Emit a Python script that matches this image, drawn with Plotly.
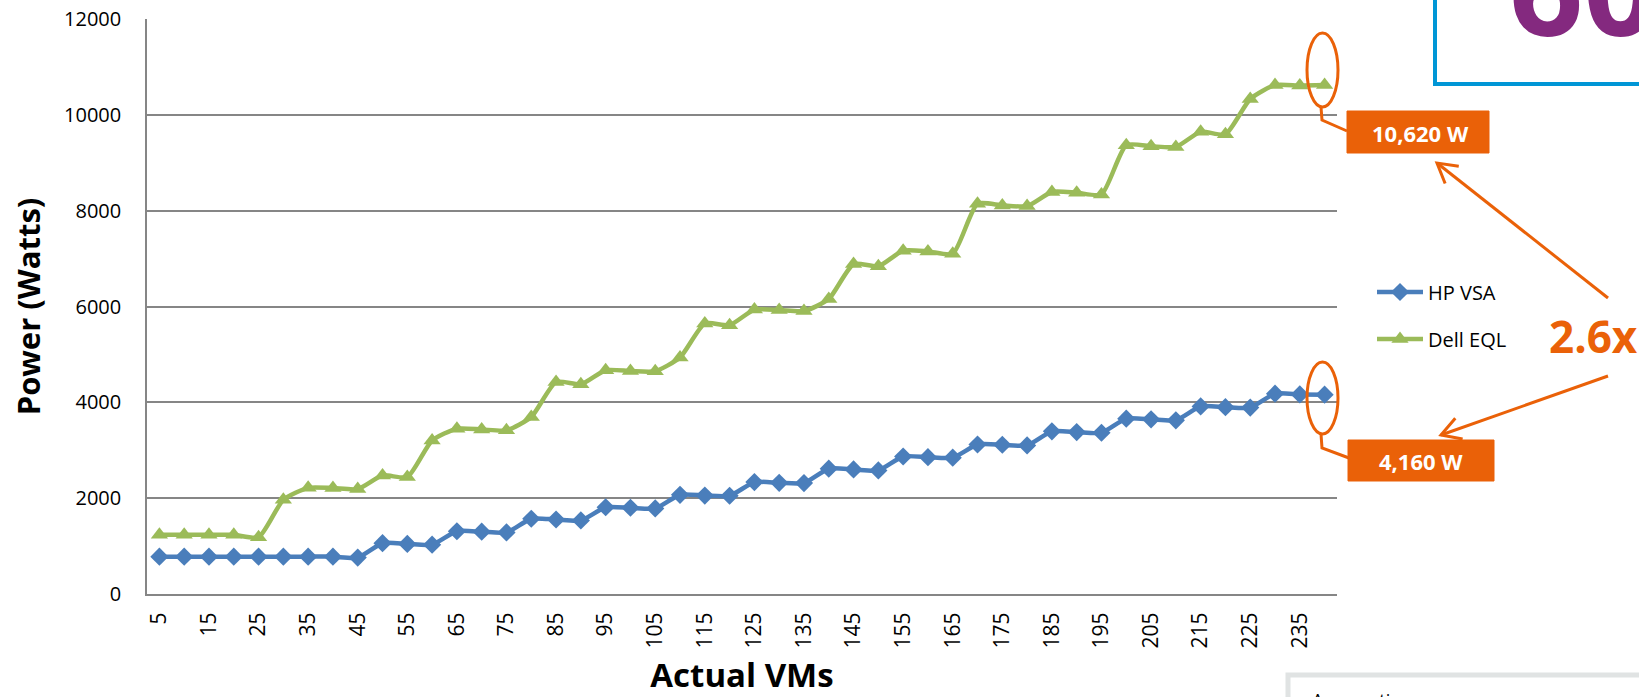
import math
import plotly.graph_objects as go

# ---- data ----
vms = [5, 10, 15, 20, 25, 30, 35, 40, 45, 50, 55, 60, 65, 70, 75, 80, 85, 90, 95, 100,
       105, 110, 115, 120, 125, 130, 135, 140, 145, 150, 155, 160, 165, 170, 175, 180,
       185, 190, 195, 200, 205, 210, 215, 220, 225, 230, 235, 240]
hp_vsa = [780, 780, 780, 780, 780, 780, 780, 780, 760,
          1060, 1045, 1030, 1310, 1300, 1285, 1570, 1555, 1535,
          1810, 1800, 1785, 2070, 2055, 2050, 2335, 2320, 2315,
          2615, 2600, 2580, 2870, 2855, 2845, 3120, 3115, 3100,
          3395, 3380, 3365, 3660, 3645, 3625, 3915, 3900, 3890,
          4180, 4165, 4160]
dell_eql = [1235, 1235, 1235, 1235, 1185, 1965, 2215, 2210, 2190, 2475, 2440, 3205,
            3450, 3435, 3415, 3695, 4425, 4375, 4670, 4655, 4650, 4935, 5645, 5610,
            5935, 5925, 5905, 6155, 6885, 6840, 7165, 7150, 7100, 8145, 8110, 8095,
            8390, 8375, 8340, 9365, 9345, 9330, 9645, 9595, 10330, 10620, 10610, 10620]
tick_labels = [5, 15, 25, 35, 45, 55, 65, 75, 85, 95, 105, 115, 125, 135, 145, 155,
               165, 175, 185, 195, 205, 215, 225, 235]
hp_label = "4,160 W"
dell_label = "10,620 W"
ratio_label = "2.6x"

# ---- layout constants ----
W, H = 1639, 697
L, R, T, B = 147, 302, 19, 103
PW, PH = W - L - R, H - T - B
BLUE = "#4A7EBB"
GREEN = "#9BBB59"
ORANGE = "#EA6108"
PURPLE = "#84297F"
CYAN = "#0096D6"
GRID = "#868686"


def px(x):
    return (x - L) / PW


def py(y):
    return (H - B - y) / PH


fig = go.Figure()
fig.add_trace(go.Scatter(
    x=vms, y=hp_vsa, name="HP VSA", mode="lines+markers",
    line=dict(color=BLUE, width=4.5, shape="spline", smoothing=0.6),
    marker=dict(symbol="diamond", size=14, color=BLUE, line=dict(width=0)),
    legend="legend"))
fig.add_trace(go.Scatter(
    x=vms, y=dell_eql, name="Dell EQL", mode="lines+markers",
    line=dict(color=GREEN, width=4.5, shape="spline", smoothing=0.6),
    marker=dict(symbol="triangle-up", size=15, color=GREEN, line=dict(width=0)),
    legend="legend2"))

shapes = []
annotations = []

# ellipses around last points
for (y0, y1) in [(107, 33), (434, 362)]:
    shapes.append(dict(type="circle", xref="paper", yref="paper",
                       x0=px(1307), x1=px(1338), y0=py(y0), y1=py(y1),
                       line=dict(color=ORANGE, width=3)))

# connectors
for pts in [[(1321, 107), (1322, 120), (1347, 131)],
            [(1321, 434), (1322, 448), (1349, 458)]]:
    path = "M " + " L ".join(f"{px(a)},{py(b)}" for a, b in pts)
    shapes.append(dict(type="path", xref="paper", yref="paper", path=path,
                       line=dict(color=ORANGE, width=3)))

# label boxes
for (x0, x1, y0, y1, txt, cx, cy) in [(1347, 1489, 111, 153, dell_label, 1420, 133),
                                      (1348, 1494, 440, 481, hp_label, 1421, 461)]:
    shapes.append(dict(type="rect", xref="paper", yref="paper",
                       x0=px(x0), x1=px(x1), y0=py(y1), y1=py(y0),
                       fillcolor=ORANGE, line=dict(color=ORANGE, width=1)))
    annotations.append(dict(xref="paper", yref="paper", x=px(cx), y=py(cy),
                            xanchor="center", yanchor="middle",
                            text=f"<b>{txt}</b>", showarrow=False,
                            font=dict(family="Open Sans", size=22, color="white")))


# arrows from ratio text to boxes (open arrowheads)
def arrow(tail, tip, arm=22):
    dx, dy = tail[0] - tip[0], tail[1] - tip[1]
    n = math.hypot(dx, dy)
    ux, uy = dx / n, dy / n
    pts = []
    for ang in (math.radians(30), math.radians(-30)):
        c, s = math.cos(ang), math.sin(ang)
        pts.append((tip[0] + arm * (c * ux - s * uy), tip[1] + arm * (s * ux + c * uy)))
    shapes.append(dict(type="path", xref="paper", yref="paper",
                       path=f"M {px(tail[0])},{py(tail[1])} L {px(tip[0])},{py(tip[1])}",
                       line=dict(color=ORANGE, width=3)))
    shapes.append(dict(type="path", xref="paper", yref="paper",
                       path=(f"M {px(pts[0][0])},{py(pts[0][1])} L {px(tip[0])},{py(tip[1])} "
                             f"L {px(pts[1][0])},{py(pts[1][1])}"),
                       line=dict(color=ORANGE, width=3)))


arrow((1608, 298), (1437, 163))
arrow((1608, 376), (1441, 435))

annotations.append(dict(xref="paper", yref="paper", x=px(1547), y=py(336),
                        xanchor="left", yanchor="middle", text=f"<b>{ratio_label}</b>",
                        showarrow=False,
                        font=dict(family="Open Sans", size=44, color=ORANGE, weight=800)))

# top-right framed box with big number
shapes.append(dict(type="rect", xref="paper", yref="paper",
                   x0=px(1435), x1=px(1720), y0=py(84), y1=py(-20),
                   line=dict(color=CYAN, width=4), fillcolor="rgba(0,0,0,0)"))
annotations.append(dict(xref="paper", yref="paper", x=px(1507), y=py(-15),
                        xanchor="left", yanchor="middle", text="<b>60</b>",
                        showarrow=False,
                        font=dict(family="Open Sans", size=130, color=PURPLE, weight=800)))

# assumptions box at bottom right
shapes.append(dict(type="rect", xref="paper", yref="paper",
                   x0=px(1288), x1=px(1720), y0=py(730), y1=py(675),
                   line=dict(color="#E0E3E3", width=5), fillcolor="white"))
annotations.append(dict(xref="paper", yref="paper", x=px(1310), y=py(686),
                        xanchor="left", yanchor="top", text="Assumptions:",
                        showarrow=False,
                        font=dict(family="Open Sans", size=18, color="black")))

legend_common = dict(xref="paper", yref="paper", xanchor="left", yanchor="middle",
                     bgcolor="rgba(0,0,0,0)", borderwidth=0,
                     font=dict(family="Open Sans", size=20, color="black"),
                     itemwidth=46)

fig.update_layout(
    width=W, height=H,
    template="none",
    paper_bgcolor="white", plot_bgcolor="white",
    margin=dict(l=L, r=R, t=T, b=B, pad=0),
    showlegend=True,
    legend=dict(x=px(1372), y=py(292), **legend_common),
    legend2=dict(x=px(1372), y=py(339), **legend_common),
    shapes=shapes,
    annotations=annotations,
    xaxis=dict(
        range=[2.5, 242.5], tickmode="array", tickvals=tick_labels,
        ticktext=[str(v) for v in tick_labels], tickangle=-90,
        showgrid=False, zeroline=False, showline=True, linecolor=GRID, linewidth=2,
        ticks="outside", ticklen=8, tickcolor="rgba(0,0,0,0)",
        tickfont=dict(family="Open Sans", size=21, color="black"),
        title=dict(text="<b>Actual VMs</b>", standoff=30,
                   font=dict(family="Open Sans", size=33, color="black")),
        automargin=False, fixedrange=True),
    yaxis=dict(
        range=[0, 12000], dtick=2000, tick0=0, tickformat="d",
        showgrid=True, gridcolor=GRID, gridwidth=1.5, zeroline=False,
        showline=True, linecolor=GRID, linewidth=1.5,
        ticks="outside", ticklen=20, tickcolor="rgba(0,0,0,0)",
        tickfont=dict(family="Open Sans", size=20, color="black"),
        title=dict(text="<b>Power (Watts)</b>", standoff=14,
                   font=dict(family="Open Sans", size=31, color="black")),
        automargin=False, fixedrange=True),
)

fig.write_html("out.html", config={"displayModeBar": False},
               post_script="document.body.style.margin='0px';")
